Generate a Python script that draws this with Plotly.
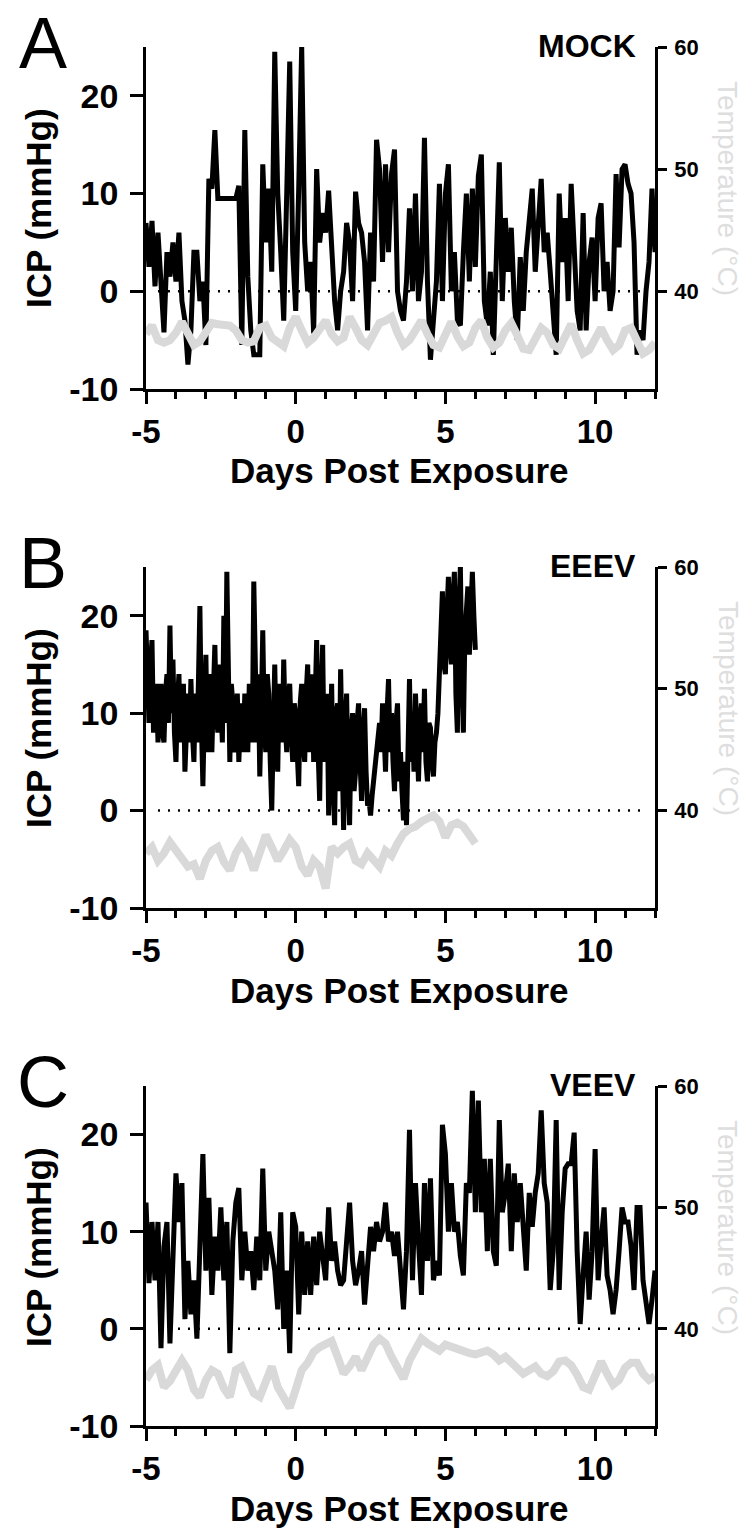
import numpy as np
import plotly.graph_objects as go

# ICP: MOCK and VEEV every 0.1 day, EEEV every 0.05 day;
# temperature every 0.2 day
panels = ["MOCK", "EEEV", "VEEV"]
letters = ["A", "B", "C"]
icp_step = [0.1, 0.05, 0.1]
temp_step = 0.2

icp_mock = [7, 2.5, 7.2, 0.5, 6, 1, -4.2, 4, 1.5, 5,
            1, 6, -1, -3, -7.5, -4, 4, 4, -1, 1,
            -5.5, 11.5, 10.5, 16.5, 9.5, 9.5, 9.5, 9.5, 9.5, 9.5,
            9.5, 10.8, -5.5, 16.5, 1.5, -4, -6.5, -6.5, -6.5, 13,
            5, 10.5, 2, 24.5, 10, 4, -3, 10, 23.5, 4,
            -2, 10.5, 25, 5, 0, 3, -4.3, 12.5, 5, 8,
            6, 10.3, 4, -1, -4, 0, 2, 7, 5, -1,
            10.2, 7, 6, 3, -4, 6, 1, 15.5, 12.5, 3,
            13, 4, 12, 14.5, 0, -2, -3, 1, 8.5, 0,
            10, -1, 2, 15.7, 1, -7, -3, 1, 11, -1,
            10, 13, 0, 4, -3, -3.5, 4, 10, 1, 10.5,
            2.5, 11.8, 14, -1, -3.5, 2, -6.5, 4, 13.2, -1,
            7.5, 2, 6.5, -1, -5, 3.5, -2, 4, 7.5, 10.5,
            2, 8, 11.5, 4, 6, 2, -3, -6.5, 10, 3,
            7.5, -1, 11, 3, -2, -4, 8, -4, 3, 5.5,
            -1, 7.5, 9, 0, 3, -2, 0, 12, 4.5, 12.5,
            13, 11, 10, 5, -6.5, -4, -5, 0, 3, 10.5, 4]

icp_eeev = [18.5, 12, 9, 15, 17.5, 8, 10, 13, 7, 11,
            13, 8, 7, 12, 14, 9, 19, 10, 15.5, 8,
            5, 11, 14, 7, 10, 13, 4, 9, 12, 7,
            13.5, 8, 5, 12, 7, 13, 21, 9, 2.5, 10,
            16, 6, 8, 14, 6, 12, 17, 10, 8, 15,
            12, 7, 20, 9, 24.5, 11, 5, 13, 11, 6,
            7, 12, 5, 9, 11, 6, 12, 8, 6, 13,
            10, 7, 23.5, 12, 7, 14, 3.5, 10, 18.5, 9,
            6, 14, 12, 5, 0, 8, 15, 7, 4, 13,
            11, 7, 15.5, 9, 6, 12, 13, 8, 5, 11,
            10, 6, 2.5, 11, 13, 7, 5, 12, 15, 6,
            9, 14, 5, 11, 17.5, 6, 1, 12, 17, 5,
            8, 12, -0.5, 9, 13, 3, -1.5, 10, 11, 2,
            14.5, 6, -2, 9, 12, 3, -1.5, 8, 10, 2,
            4, 9, 11, 5, 1, 8, 10.5, 4, 0.5, 1,
            -0.5, 1.5, 3, 4.5, 6, 7.5, 9, 6, 11, 8,
            4, 10, 13.5, 6, 10, 5, 2, 9, 11, 3,
            6, 2, -1, 5, -1.5, 6, 13.5, 5, 10, 4,
            12, 8, 3, 9, 11, 6, 12.5, 5, 3, 9,
            8.5, 5, 3.5, 7, 8, 10, 14, 18, 22.5, 15,
            14, 20, 24, 17, 15, 22, 24.5, 12, 8, 21,
            25, 14, 8, 18, 20, 23, 16, 19, 24.5, 20,
            16.5]

icp_veev = [13, 4.7, 11, 5, 11, -2, 8.5, 11, -1.5, 9,
            16, 11, 15, 1, 7, 1.5, 5, -1, 9, 18,
            6, 13.5, 3.5, 9.5, 6, 12.5, 5, 11, -2.5, 9,
            13, 14.5, 5, 10, 6, 8, 4, 9.5, 5, 16.5,
            6, 10, 8, 6, 2, 12, 0, 6, -2.5, 12,
            10.5, 1.5, 10, 3.5, 9, 3.5, 9.5, 4.5, 10, 7,
            5, 12.5, 7, 9, 6, 4.5, 5, 9, 13, 7,
            4.5, 6, 8, 2.5, 7, 10.5, 8, 11, 9, 10,
            13, 9, 10, 7.5, 10, 6, 2, 8, 20.5, 5,
            15, 9, 3.5, 15, 7, 15.5, 5, 7, 5.5, 21,
            18, 10, 15, 10, 11, 7.5, 5.5, 15, 14, 24.5,
            12, 23.5, 12, 17.5, 8, 17.5, 8, 6.5, 21.5, 12,
            14, 17, 8, 16, 11, 15, 9.5, 6, 14, 10.5,
            14, 16, 22.5, 15, 13, 4, 8, 21.5, 4, 12,
            16.5, 17, 17, 20.2, 8, 0.5, 5.5, 10, 3, 8,
            18.5, 5, 9, 12.5, 5.5, 4, 1.5, 4, 8, 12.5,
            11, 11, 8.5, 4, 12.5, 12.5, 5, 2.5, 0.5, 3, 6]

temp_mock = [36.5, 37.2, 36.0, 35.8, 36.0, 36.6, 37.5, 36.5, 35.6, 35.9,
             36.8, 37.4, 37.3, 37.3, 37.2, 36.8, 36.0, 35.8, 35.9, 37.0,
             37.2, 36.2, 35.8, 35.5, 37.0, 37.9, 36.8, 35.8, 36.2, 36.8,
             37.6, 36.5, 35.9, 36.2, 37.9, 37.0, 36.0, 35.6, 36.5, 37.4,
             37.6, 37.9, 36.6, 35.6, 36.0, 36.8, 37.6, 36.5, 35.6, 35.4,
             36.5, 37.5, 36.3, 35.5, 35.8, 37.0, 37.6, 36.2, 35.4, 35.8,
             36.8, 37.4, 36.4, 35.3, 35.2, 36.2, 37.0, 36.6, 35.6, 35.3,
             36.5, 37.3, 36.0, 34.9, 35.2, 36.0, 37.0, 36.0, 35.2, 35.6,
             36.8, 37.0, 35.8, 34.9, 35.2, 35.8]

temp_eeev = [36.5, 37.0, 35.9, 36.5, 37.4, 36.7, 35.9, 35.4, 35.6, 34.4,
             35.9, 36.7, 37.0, 35.8, 35.1, 36.5, 37.3, 36.5, 35.1, 36.5,
             38.0, 37.0, 35.9, 36.7, 37.6, 37.0, 35.4, 34.7, 35.9, 35.4,
             33.6, 37.0, 36.5, 37.0, 37.3, 35.9, 35.6, 36.5, 36.0, 35.4,
             36.7, 36.3, 37.3, 38.1, 38.5, 38.7, 39.1, 39.4, 39.6, 39.1,
             37.8, 38.8, 39.0, 38.7, 38.0, 37.3]

temp_veev = [35.8, 36.6, 37.0, 35.2, 35.7, 36.6, 37.4, 36.6, 35.0, 34.4,
             35.8, 36.6, 36.3, 35.1, 34.4, 36.6, 36.9, 35.8, 34.7, 34.4,
             35.8, 36.9, 35.2, 34.4, 33.5, 35.0, 36.6, 37.2, 38.1, 38.5,
             38.8, 39.0, 37.7, 36.3, 36.9, 37.7, 36.6, 37.7, 38.7, 39.2,
             38.8, 37.7, 36.9, 35.9, 37.4, 38.2, 39.2, 38.8, 38.5, 38.2,
             38.7, 38.5, 38.4, 38.1, 38.0, 37.9, 38.1, 38.2, 37.9, 37.4,
             37.7, 37.3, 36.8, 36.3, 36.6, 36.9, 36.3, 36.1, 36.5, 37.3,
             37.4, 37.0, 36.2, 35.2, 35.0, 36.1, 37.3, 36.3, 35.4, 35.8,
             36.8, 37.2, 37.2, 36.3, 35.8, 36.1]

icp_all = [icp_mock, icp_eeev, icp_veev]
temp_all = [temp_mock, temp_eeev, temp_veev]
x_ticks = [-5, 0, 5, 10]
x_labels = ["-5", "0", "5", "10"]
icp_ticks = [-10, 0, 10, 20]
icp_labels = ["-10", "0", "10", "20"]
temp_ticks = [40, 50, 60]

# page body has an 8px margin, so the figure is drawn 8px in from the corner
OFF = 8
W, H = 749 - OFF, 1532 - OFF
X0, X1 = 146, 655            # plot left / right in window pixels
TOPS = [47, 567, 1086]       # plot top (ICP = 25)
BOTS = [389, 908, 1426]      # plot bottom (ICP = -10)
FONT = "Liberation Sans"


def px(x):
    return (x - OFF) / W


def py(y):
    return 1 - (y - OFF) / H


fig = go.Figure()
layout = {}
annotations = []

for i, name in enumerate(panels):
    k = i + 1
    yl, yr = 2 * i + 1, 2 * i + 2
    days = np.round(-5 + icp_step[i] * np.arange(len(icp_all[i])), 2)
    tdays = np.round(-5 + temp_step * np.arange(len(temp_all[i])), 2)

    fig.add_trace(go.Scatter(x=days, y=icp_all[i], mode="lines",
                             line=dict(color="black", width=5),
                             xaxis=f"x{k}", yaxis=f"y{yl}"))
    fig.add_trace(go.Scatter(x=tdays, y=temp_all[i], mode="lines",
                             line=dict(color="#d9d9d9", width=8),
                             xaxis=f"x{k}", yaxis=f"y{yr}"))

    fig.add_shape(type="line", xref=f"x{k}", yref=f"y{yl}",
                  x0=-4.6, x1=11.7, y0=0, y1=0, layer="below",
                  line=dict(color="black", width=2.5, dash="2px,8px"))

    ydom = [py(BOTS[i]), py(TOPS[i])]
    layout[f"xaxis{k}"] = dict(
        domain=[px(X0), px(X1)], range=[-5, 12], anchor=f"y{yl}",
        automargin=False,
        showline=True, linewidth=2.5, linecolor="black", showgrid=False,
        zeroline=False, ticks="outside", tickmode="array", tickvals=x_ticks,
        ticktext=x_labels, ticklen=12,
        tickwidth=2.5, tickcolor="black", ticklabelstandoff=0,
        tickfont=dict(family=FONT, size=33, color="black", weight="bold"),
        minor=dict(tickmode="linear", tick0=-5, dtick=1, ticks="outside",
                   ticklen=7, tickwidth=2.5, tickcolor="black", showgrid=False))
    layout[f"yaxis{yl}"] = dict(
        domain=ydom, range=[-10, 25], anchor=f"x{k}", automargin=False,
        showline=True, linewidth=2.5, linecolor="black", showgrid=False,
        zeroline=False, ticks="outside", tickmode="array", tickvals=icp_ticks,
        ticktext=icp_labels, ticklen=13,
        tickwidth=2.5, tickcolor="black", ticklabelstandoff=5,
        tickfont=dict(family=FONT, size=34, color="black", weight="bold"))
    layout[f"yaxis{yr}"] = dict(
        domain=ydom, range=[32, 60], anchor=f"x{k}", overlaying=f"y{yl}",
        side="right", automargin=False, showline=True, linewidth=2.5,
        linecolor="black", showgrid=False, zeroline=False, ticks="outside",
        tickmode="array", tickvals=temp_ticks,
        ticklen=9, tickwidth=2.5, tickcolor="black", ticklabelstandoff=3,
        tickfont=dict(family=FONT, size=22, color="black", weight="bold"))

    T, B = TOPS[i], BOTS[i]
    annotations += [
        dict(text=letters[i], x=px(43), y=py(T - 4),
             font=dict(family=FONT, size=72, color="black")),
        dict(text=f"<b>{name}</b>", x=px(638), y=py(T - 1), xanchor="right",
             font=dict(family=FONT, size=32, color="black")),
        dict(text="<b>ICP (mmHg)</b>", x=px(38), y=py(T + 161), textangle=-90,
             font=dict(family=FONT, size=35, color="black")),
        dict(text="Temperature (°C)", x=px(728), y=py(T + 141), textangle=90,
             font=dict(family=FONT, size=28, color="#dedede")),
        dict(text="<b>Days Post Exposure</b>", x=px(399), y=py(B + 82),
             font=dict(family=FONT, size=35, color="black")),
    ]

for a in annotations:
    a.setdefault("xanchor", "center")
    a.update(xref="paper", yref="paper", yanchor="middle", showarrow=False)

fig.update_layout(template="none", width=W, height=H,
                  margin=dict(l=0, r=0, t=0, b=0, pad=0),
                  paper_bgcolor="white", plot_bgcolor="white",
                  showlegend=False, annotations=annotations, **layout)

fig.write_html("out.html")
